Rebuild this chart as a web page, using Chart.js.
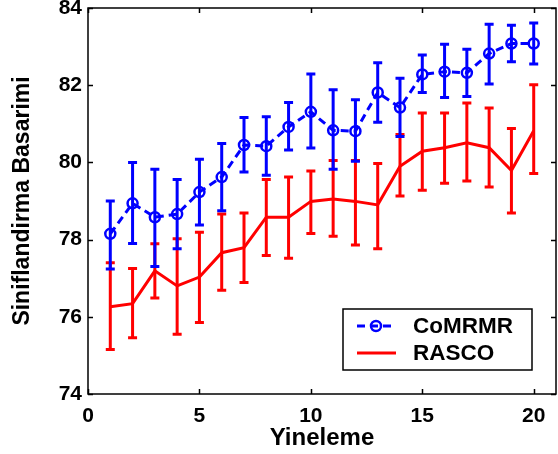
<!DOCTYPE html>
<html lang="en">
<head>
    <meta charset="UTF-8">
    <title>Siniflandirma Basarimi</title>
    <style>
        body { margin: 0; background: #fff; }
        canvas { display: block; }
    </style>
</head>
<body>
<canvas id="chart" width="558" height="454"></canvas>

<script src="https://cdn.jsdelivr.net/npm/chart.js"></script>
<script>
    // iterations
    const iterations = [1, 2, 3, 4, 5, 6, 7, 8, 9, 10, 11, 12, 13, 14, 15, 16, 17, 18, 19, 20];

    // CoMRMR mean, upper and lower end of the error bar
    const comrmrMean = [78.15, 78.94, 78.58, 78.66, 79.23, 79.62, 80.45, 80.42, 80.92, 81.31,
                        80.83, 80.81, 81.81, 81.42, 82.28, 82.35, 82.32, 82.82, 83.08, 83.08];
    const comrmrHigh = [79.00, 80.00, 79.82, 79.56, 80.08, 80.49, 81.16, 81.18, 81.55, 82.29,
                        81.88, 81.62, 82.58, 82.18, 82.78, 83.06, 82.93, 83.58, 83.55, 83.61];
    const comrmrLow  = [77.24, 77.90, 77.30, 77.76, 78.38, 78.75, 79.75, 79.67, 80.32, 80.37,
                        79.82, 80.03, 81.04, 80.67, 81.81, 81.68, 81.71, 82.03, 82.61, 82.55];

    // RASCO
    const rascoMean = [76.26, 76.34, 77.19, 76.80, 77.03, 77.66, 77.79, 78.58, 78.58, 78.99,
                       79.05, 78.99, 78.90, 79.90, 80.29, 80.38, 80.51, 80.38, 79.79, 80.82];
    const rascoHigh = [77.40, 77.25, 77.89, 78.02, 78.19, 78.66, 78.69, 79.56, 79.62, 79.78,
                       80.05, 80.05, 79.97, 80.72, 81.28, 81.28, 81.54, 81.41, 80.88, 82.01];
    const rascoLow  = [75.15, 75.46, 76.49, 75.55, 75.85, 76.69, 76.89, 77.59, 77.52, 78.16,
                       78.09, 77.86, 77.76, 79.13, 79.28, 79.46, 79.52, 79.36, 78.69, 79.71];

    const xTicks = [0, 5, 10, 15, 20];
    const yTicks = [74, 76, 78, 80, 82, 84];

    const BLUE = '#0000ff';
    const RED = '#ff0000';
    const FONT = 'Liberation Sans, Arial, Helvetica, sans-serif';

    function toPoints(ys) {
        return iterations.map((x, i) => ({ x: x, y: ys[i] }));
    }

    // keep the plot box where the reference has it (labels may overhang the edges)
    function noPadding(scale) {
        scale.paddingTop = 0;
        scale.paddingBottom = 0;
        scale.paddingLeft = 0;
        scale.paddingRight = 0;
    }

    // error bars drawn right after each dataset, through the chart scales
    const errorBars = {
        id: 'errorBars',
        afterDatasetDraw(chart, args) {
            const ds = chart.data.datasets[args.index];
            if (!ds.errHigh) return;
            const ctx = chart.ctx;
            const xs = chart.scales.x, ys = chart.scales.y;
            ctx.save();
            ctx.strokeStyle = ds.borderColor;
            ctx.lineWidth = 3;
            ctx.setLineDash([]);
            iterations.forEach((it, i) => {
                const px = xs.getPixelForValue(it);
                const top = ys.getPixelForValue(ds.errHigh[i]);
                const bot = ys.getPixelForValue(ds.errLow[i]);
                ctx.beginPath();
                ctx.moveTo(px, top); ctx.lineTo(px, bot);
                ctx.moveTo(px - 4.5, top); ctx.lineTo(px + 4.5, top);
                ctx.moveTo(px - 4.5, bot); ctx.lineTo(px + 4.5, bot);
                ctx.stroke();
            });
            ctx.restore();
        }
    };

    // MATLAB style box with inward ticks, plus the legend
    const frame = {
        id: 'frame',
        afterDraw(chart) {
            const ctx = chart.ctx;
            const a = chart.chartArea;
            const xs = chart.scales.x, ys = chart.scales.y;
            ctx.save();
            ctx.strokeStyle = '#000';
            ctx.lineWidth = 1.5;
            ctx.strokeRect(a.left, a.top, a.right - a.left, a.bottom - a.top);
            ctx.beginPath();
            xTicks.forEach(v => {
                const px = Math.round(xs.getPixelForValue(v)) + 0.5;
                ctx.moveTo(px, a.bottom); ctx.lineTo(px, a.bottom - 5);
                ctx.moveTo(px, a.top); ctx.lineTo(px, a.top + 5);
            });
            yTicks.forEach(v => {
                const py = Math.round(ys.getPixelForValue(v)) + 0.5;
                ctx.moveTo(a.left, py); ctx.lineTo(a.left + 5, py);
                ctx.moveTo(a.right, py); ctx.lineTo(a.right - 5, py);
            });
            ctx.stroke();

            // legend
            const bx = a.right - 213, by = a.bottom - 85, bw = 189, bh = 61;
            ctx.fillStyle = '#fff';
            ctx.fillRect(bx, by, bw, bh);
            ctx.lineWidth = 1.5;
            ctx.strokeRect(bx, by, bw, bh);

            const rows = [by + 17, by + 44];
            chart.data.datasets.forEach((ds, i) => {
                const y = rows[i];
                ctx.strokeStyle = ds.borderColor;
                ctx.lineWidth = 3;
                ctx.setLineDash(ds.borderDash || []);
                ctx.beginPath();
                ctx.moveTo(bx + 14, y); ctx.lineTo(bx + 53, y);
                ctx.stroke();
                ctx.setLineDash([]);
                if (ds.pointRadius > 0) {
                    ctx.lineWidth = 2.5;
                    ctx.beginPath();
                    ctx.arc(bx + 33, y, 5, 0, Math.PI * 2);
                    ctx.stroke();
                }
                ctx.fillStyle = '#000';
                ctx.font = 'bold 22.5px ' + FONT;
                ctx.textBaseline = 'middle';
                ctx.textAlign = 'left';
                ctx.fillText(ds.label, bx + 70, y + 1);
            });
            ctx.restore();
        }
    };

    const config = {
        type: 'line',
        data: {
            datasets: [
                {
                    label: 'CoMRMR',
                    data: toPoints(comrmrMean),
                    errHigh: comrmrHigh,
                    errLow: comrmrLow,
                    borderColor: BLUE,
                    borderWidth: 3,
                    borderDash: [8, 5],
                    pointRadius: 5,
                    pointBorderWidth: 2.5,
                    pointBorderColor: BLUE,
                    pointBackgroundColor: 'rgba(0,0,0,0)',
                    fill: false,
                    tension: 0
                },
                {
                    label: 'RASCO',
                    data: toPoints(rascoMean),
                    errHigh: rascoHigh,
                    errLow: rascoLow,
                    borderColor: RED,
                    borderWidth: 3,
                    pointRadius: 0,
                    fill: false,
                    tension: 0
                }
            ]
        },
        options: {
            responsive: false,
            animation: false,
            layout: { autoPadding: false, padding: { top: 8, right: 2, left: 0, bottom: 0 } },
            plugins: {
                legend: { display: false },
                tooltip: { enabled: false }
            },
            scales: {
                x: {
                    type: 'linear',
                    min: 0,
                    max: 21,
                    afterBuildTicks(scale) { scale.ticks = xTicks.map(v => ({ value: v })); },
                    afterFit(scale) { scale.height = 60; noPadding(scale); },
                    grid: { display: false, drawTicks: false },
                    border: { display: false },
                    ticks: {
                        color: '#000',
                        padding: 10,
                        maxRotation: 0,
                        font: { family: FONT, size: 21, weight: 'bold' }
                    },
                    title: {
                        display: true,
                        text: 'Yineleme',
                        color: '#000',
                        padding: { top: 0, bottom: 1 },
                        font: { family: FONT, size: 24, weight: 'bold' }
                    }
                },
                y: {
                    type: 'linear',
                    min: 74,
                    max: 84,
                    afterBuildTicks(scale) { scale.ticks = yTicks.map(v => ({ value: v })); },
                    afterFit(scale) { scale.width = 88; noPadding(scale); },
                    grid: { display: false, drawTicks: false },
                    border: { display: false },
                    ticks: {
                        color: '#000',
                        padding: 6,
                        font: { family: FONT, size: 21, weight: 'bold' }
                    },
                    title: {
                        display: true,
                        text: 'Siniflandirma Basarimi',
                        color: '#000',
                        padding: { top: 9, bottom: 0 },
                        font: { family: FONT, size: 23, weight: 'bold' }
                    }
                }
            }
        },
        plugins: [errorBars, frame]
    };

    window.onload = function() {
        const ctx = document.getElementById('chart').getContext('2d');
        window.chart = new Chart(ctx, config);
    };
</script>
</body>
</html>
